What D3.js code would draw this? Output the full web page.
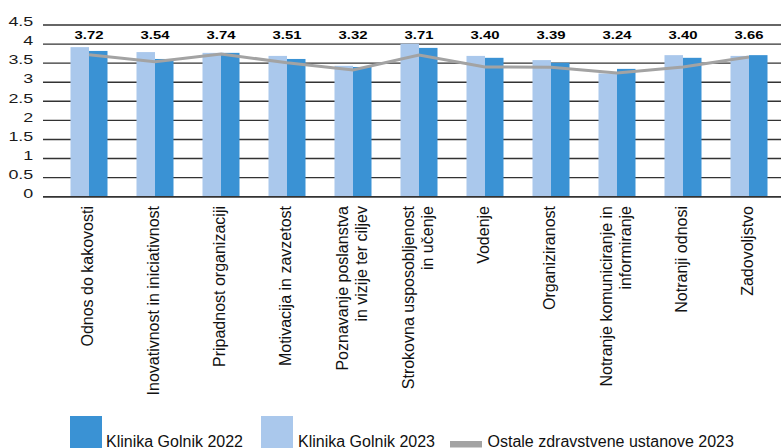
<!DOCTYPE html>
<html>
<head>
<meta charset="utf-8">
<script src="https://cdn.jsdelivr.net/npm/d3@7"></script>
<style>
  html, body { margin: 0; padding: 0; background: #fff; }
  svg { display: block; font-family: "Liberation Sans", Arial, sans-serif; }
</style>
</head>
<body>
<svg id="chart" width="781" height="448"></svg>
<script>
const categories = [
  ["Odnos do kakovosti"],
  ["Inovativnost in iniciativnost"],
  ["Pripadnost organizaciji"],
  ["Motivacija in zavzetost"],
  ["Poznavanje poslanstva", "in vizije ter ciljev"],
  ["Strokovna usposobljenost", "in učenje"],
  ["Vodenje"],
  ["Organiziranost"],
  ["Notranje komuniciranje in", "informiranje"],
  ["Notranji odnosi"],
  ["Zadovoljstvo"]
];
const golnik2022 = [3.82, 3.61, 3.77, 3.61, 3.40, 3.90, 3.64, 3.51, 3.35, 3.64, 3.71];
const golnik2023 = [3.92, 3.79, 3.77, 3.69, 3.43, 4.01, 3.69, 3.58, 3.23, 3.71, 3.69];
const ostale2023 = [3.72, 3.54, 3.74, 3.51, 3.32, 3.71, 3.40, 3.39, 3.24, 3.40, 3.66];
const yTicks = [0, 0.5, 1, 1.5, 2, 2.5, 3, 3.5, 4, 4.5];
const legendLabels = ["Klinika Golnik 2022", "Klinika Golnik 2023", "Ostale zdravstvene ustanove 2023"];

const colDark = "#3a92d4", colLight = "#aac8ec", colLine = "#a3a3a3";

const svg = d3.select("#chart");
const keys = categories.map((c, i) => i);
const x = d3.scaleBand().domain(keys).range([56, 782]).padding(0);
const y = d3.scaleLinear().domain([0, 4.5]).range([196.7, 25]);
const barW = 18.5;
const cx = i => x(i) + x.bandwidth() / 2;

// gridlines
svg.append("g").selectAll("line").data(yTicks).join("line")
  .attr("x1", 43).attr("x2", 781)
  .attr("y1", d => y(d)).attr("y2", d => y(d))
  .attr("stroke", "#333").attr("stroke-width", 1.4);

// y tick labels (horizontally stretched like the reference)
svg.append("g").selectAll("text").data(yTicks).join("text")
  .attr("transform", d => `translate(33.3,${y(d) + 1.2}) scale(1.42,1)`)
  .attr("text-anchor", "end")
  .attr("font-size", 12.6)
  .attr("fill", "#1a1a1a")
  .text(d => d);

// bars
svg.append("g").selectAll("rect").data(golnik2023).join("rect")
  .attr("x", (d, i) => cx(i) - barW).attr("width", barW)
  .attr("y", d => y(d)).attr("height", d => y(0) - y(d))
  .attr("fill", colLight);
svg.append("g").selectAll("rect").data(golnik2022).join("rect")
  .attr("x", (d, i) => cx(i)).attr("width", barW)
  .attr("y", d => y(d)).attr("height", d => y(0) - y(d))
  .attr("fill", colDark);

// baseline axis line
svg.append("line").attr("x1", 43).attr("x2", 781)
  .attr("y1", y(0)).attr("y2", y(0))
  .attr("stroke", "#333").attr("stroke-width", 1.4);

// line series
const line = d3.line().x((d, i) => cx(i)).y(d => y(d));
svg.append("path").datum(ostale2023)
  .attr("d", line).attr("fill", "none")
  .attr("stroke", colLine).attr("stroke-width", 3);

// value labels
svg.append("g").selectAll("text").data(ostale2023).join("text")
  .attr("transform", (d, i) => `translate(${cx(i)},39.3) scale(1.33,1)`)
  .attr("text-anchor", "middle")
  .attr("font-size", 11.2).attr("font-weight", "bold")
  .attr("fill", "#000")
  .text(d => d.toFixed(2));

// x labels (rotated)
const xl = svg.append("g").selectAll("text").data(categories).join("text")
  .attr("transform", (d, i) => `translate(${cx(i)},206) rotate(-90)`)
  .attr("text-anchor", "end")
  .attr("font-size", 16)
  .attr("fill", "#111");
xl.each(function(lines) {
  const t = d3.select(this);
  const n = lines.length;
  lines.forEach((s, k) => {
    const off = (k - (n - 1) / 2) * 19 + 4;
    t.append("tspan").attr("x", 0).attr("y", off).text(s);
  });
});

// legend
const lg = svg.append("g").attr("font-size", 16).attr("fill", "#111");
lg.append("rect").attr("x", 70).attr("y", 416).attr("width", 32).attr("height", 32).attr("fill", colDark);
lg.append("text").attr("x", 106).attr("y", 446.5).text(legendLabels[0]);
lg.append("rect").attr("x", 261).attr("y", 416).attr("width", 32).attr("height", 32).attr("fill", colLight);
lg.append("text").attr("x", 298).attr("y", 446.5).text(legendLabels[1]);
lg.append("rect").attr("x", 450).attr("y", 441).attr("width", 32).attr("height", 6.5).attr("fill", colLine);
lg.append("text").attr("x", 487.5).attr("y", 446.5).text(legendLabels[2]);
</script>
</body>
</html>
